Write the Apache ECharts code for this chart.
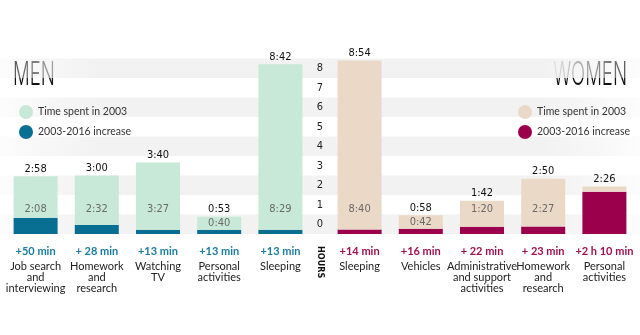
<!DOCTYPE html>
<html>
<head>
<meta charset="utf-8">
<script src="https://cdn.jsdelivr.net/npm/echarts@6/dist/echarts.min.js"></script>
<style>
html,body{margin:0;padding:0;background:#fff;}
#chart{width:640px;height:335px;}
</style>
</head>
<body>
<div id="chart"></div>
<script>
// ---- data (minutes) ----
const menCategories = ['Job search\nand\ninterviewing', 'Homework\nand\nresearch', 'Watching\nTV', 'Personal\nactivities', 'Sleeping'];
const men2003 = [128, 152, 207, 40, 509];
const menIncrease = [50, 28, 13, 13, 13];
const menIncreaseText = ['+50 min', '+ 28 min', '+13 min', '+13 min', '+13 min'];

const womenCategories = ['Sleeping', 'Vehicles', 'Administrative\nand support\nactivities', 'Homework\nand\nresearch', 'Personal\nactivities'];
const women2003 = [520, 42, 80, 147, 16];
const womenIncrease = [14, 16, 22, 23, 130];
const womenIncreaseText = ['+14 min', '+16 min', '+ 22 min', '+ 23 min', '+2 h 10 min'];

const hourTicks = ['0', '1', '2', '3', '4', '5', '6', '7', '8'];

// ---- styling ----
const NARROW = '"DejaVu Sans Condensed", "Liberation Sans Narrow", sans-serif';
const SANS = 'Lato, "Open Sans", sans-serif';
const MEN_LIGHT = '#c9e9d8', MEN_DARK = '#086f93', MEN_TEXT = '#1a7c9e';
const WOMEN_LIGHT = '#ebd9c7', WOMEN_DARK = '#9a004b', WOMEN_TEXT = '#a0104f';

function fmt(m) {
  const h = Math.floor(m / 60), mm = m % 60;
  return h + ':' + (mm < 10 ? '0' : '') + mm;
}

function catLabel(cats, incText, color) {
  return {
    interval: 0,
    margin: 7,
    formatter: function (value, idx) {
      const lines = value.split('\n').map(l => '{cat|' + l + '}').join('\n');
      return '{inc|' + incText[idx] + '}\n' + lines;
    },
    rich: {
      inc: { fontFamily: SANS, fontWeight: 'bold', fontSize: 11, color: color, lineHeight: 20 },
      cat: { fontFamily: SANS, fontSize: 11, color: '#222', lineHeight: 11 }
    }
  };
}

function sideSeries(axisIdx, base, inc, light, dark, nameSuffix) {
  const totals = base.map((v, i) => v + inc[i]);
  const labelData = totals.map((t, i) => ({
    value: t,
    label: t >= 90
      ? { show: inc[i] < 60, position: 'insideBottom', distance: 19 }
      : { show: true, position: 'insideTop', distance: 1 }
  }));
  return [
    {
      name: '2003-2016 increase' + nameSuffix, type: 'bar', stack: 's' + axisIdx,
      xAxisIndex: axisIdx, yAxisIndex: axisIdx, barWidth: 44, barGap: '-100%',
      data: inc, itemStyle: { color: dark }, z: 3
    },
    {
      name: 'Time spent in 2003' + nameSuffix, type: 'bar', stack: 's' + axisIdx,
      xAxisIndex: axisIdx, yAxisIndex: axisIdx, barWidth: 44, barGap: '-100%',
      data: base, itemStyle: { color: light }, z: 3,
      label: {
        show: true, position: 'top', distance: 2,
        fontFamily: NARROW, fontSize: 11, color: '#111',
        formatter: p => fmt(totals[p.dataIndex])
      }
    },
    {
      name: 'labels' + axisIdx, type: 'bar',
      xAxisIndex: axisIdx, yAxisIndex: axisIdx, barWidth: 44, barGap: '-100%',
      data: labelData, itemStyle: { color: 'rgba(0,0,0,0)' }, z: 5, silent: true,
      label: {
        fontFamily: NARROW, fontSize: 11, color: '#6a6a6a',
        formatter: p => fmt(base[p.dataIndex])
      }
    }
  ];
}

const stripe = {
  type: 'linear', x: 0, y: 0, x2: 1, y2: 0,
  colorStops: [
    { offset: 0, color: 'rgba(241,241,241,0.2)' },
    { offset: 0.15, color: '#f2f2f2' },
    { offset: 0.85, color: '#f2f2f2' },
    { offset: 1, color: 'rgba(241,241,241,0.2)' }
  ]
};

const chart = echarts.init(document.getElementById('chart'), null, { renderer: 'canvas' });

const legendCommon = {
  orient: 'vertical', top: 100, itemWidth: 14, itemHeight: 14, itemGap: 6,
  icon: 'circle', selectedMode: false,
  textStyle: { fontFamily: SANS, fontSize: 10.5, color: '#333' },
  formatter: n => n.replace(' (women)', '')
};

chart.setOption({
  animation: false,
  backgroundColor: '#fff',
  grid: [
    { left: 0, right: 0, top: 58.5, bottom: 101 },
    { left: 5, width: 306, top: 58.5, bottom: 101 },
    { left: 329, width: 306, top: 58.5, bottom: 101 }
  ],
  legend: [
    Object.assign({}, legendCommon, { left: 14, data: ['Time spent in 2003', '2003-2016 increase'] }),
    Object.assign({}, legendCommon, { left: 513, data: ['Time spent in 2003 (women)', '2003-2016 increase (women)'] })
  ],
  xAxis: [
    { gridIndex: 0, type: 'value', show: false },
    {
      gridIndex: 1, type: 'category', data: menCategories,
      axisLine: { show: false }, axisTick: { show: false },
      axisLabel: catLabel(menCategories, menIncreaseText, MEN_TEXT)
    },
    {
      gridIndex: 2, type: 'category', data: womenCategories,
      axisLine: { show: false }, axisTick: { show: false },
      axisLabel: catLabel(womenCategories, womenIncreaseText, WOMEN_TEXT)
    }
  ],
  yAxis: [
    {
      gridIndex: 0, type: 'category', data: hourTicks, boundaryGap: true,
      position: 'left', offset: -320,
      axisLine: { show: false }, axisTick: { show: false },
      splitLine: { show: false },
      splitArea: { show: true, areaStyle: { color: [stripe, 'rgba(255,255,255,0)'] } },
      axisLabel: { align: 'center', margin: 0, fontFamily: NARROW, fontSize: 11, color: '#222' },
      name: 'HOURS', nameLocation: 'start', nameGap: 12, nameRotate: -90,
      nameTextStyle: { fontFamily: NARROW, fontWeight: 'bold', fontSize: 9, color: '#111', align: 'left', verticalAlign: 'middle' }
    },
    { gridIndex: 1, type: 'value', min: 0, max: 540, show: false },
    { gridIndex: 2, type: 'value', min: 0, max: 540, show: false }
  ],
  graphic: [
    {
      type: 'text', x: 13, y: 75, scaleX: 0.58,
      style: { text: 'MEN', x: 0, y: 0, align: 'left', verticalAlign: 'middle', font: '300 32px Inter, "DejaVu Sans", sans-serif', fill: '#111' }
    },
    {
      type: 'text', x: 627, y: 75, scaleX: 0.58,
      style: { text: 'WOMEN', x: 0, y: 0, align: 'right', verticalAlign: 'middle', font: '300 32px Inter, "DejaVu Sans", sans-serif', fill: '#111' }
    }
  ],
  series: [].concat(
    sideSeries(1, men2003, menIncrease, MEN_LIGHT, MEN_DARK, ''),
    sideSeries(2, women2003, womenIncrease, WOMEN_LIGHT, WOMEN_DARK, ' (women)')
  )
});
</script>
</body>
</html>
